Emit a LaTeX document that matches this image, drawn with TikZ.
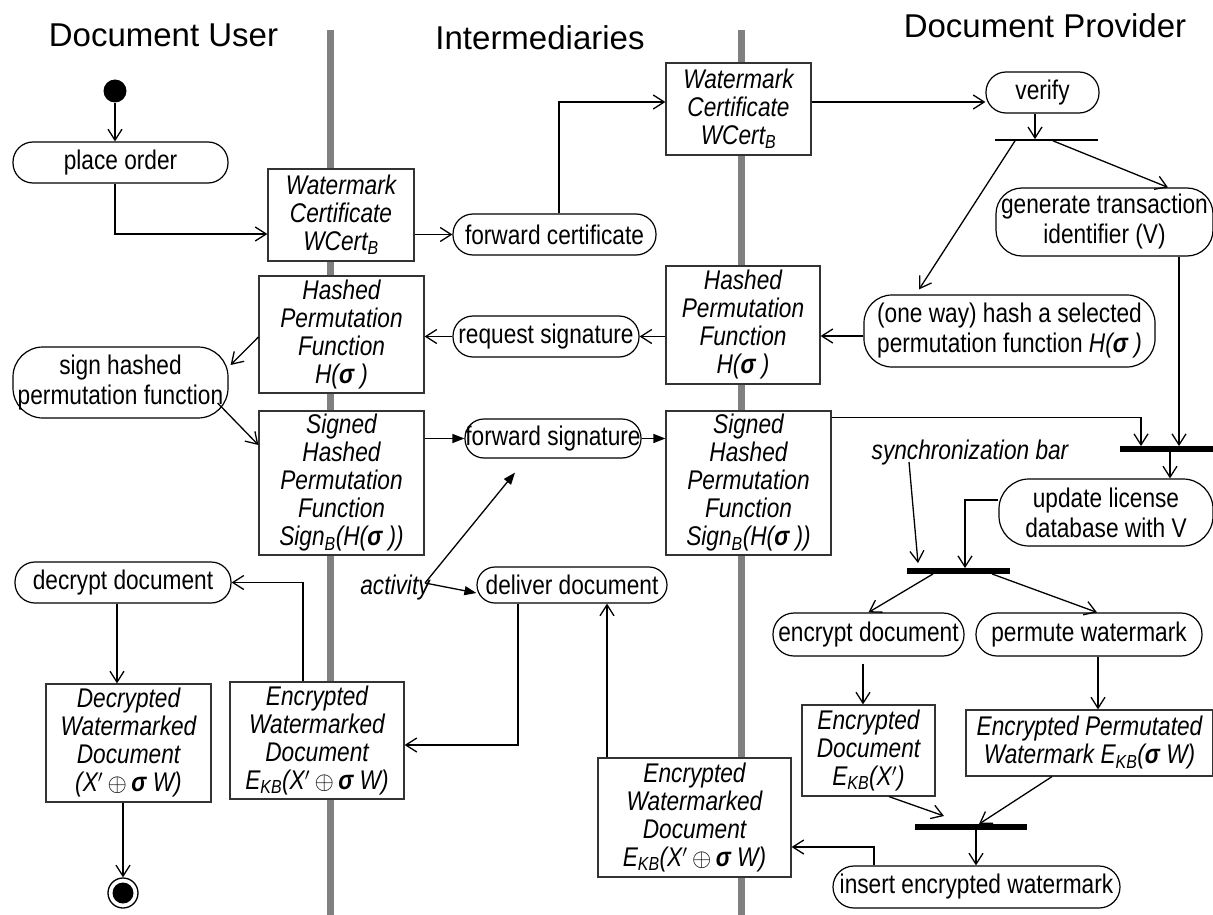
\documentclass[tikz,border=0pt]{standalone}
\usepackage{fontspec}
\setmainfont{Liberation Sans}
\newfontfamily\nar[FakeStretch=0.84]{Liberation Sans}
\usetikzlibrary{arrows.meta,calc}
\begin{document}
\begin{tikzpicture}[x=1pt,y=-1pt,
  arr/.style={line width=1.3pt, -{Straight Barb[length=11pt,width=14pt]}},
  farr/.style={line width=1.3pt, -{Triangle[length=12pt,width=9pt]}},
  sz/.style 2 args={minimum width=#1pt, minimum height=#2pt},
  act/.style={draw, fill=white, line width=1.2pt, rounded corners=#1, inner sep=0pt, align=center, font=\nar\fontsize{27}{30}\selectfont},
  obj/.style={draw=black!80, fill=white, line width=1.2pt, inner sep=0pt, align=center, font=\nar\itshape\fontsize{27}{28}\selectfont},
  syncbar/.style={fill=black, inner sep=0pt, minimum height=5.5pt},
  lane/.style={line width=7pt, draw=black!50},
  ttl/.style={font=\fontsize{33}{36}\selectfont, anchor=base, inner sep=0pt},
  lbl/.style={font=\nar\itshape\fontsize{27}{30}\selectfont, inner sep=0pt}
]
\useasboundingbox (0,0) rectangle (1213,915);
\draw[lane] (330,30) -- (330,915);
\draw[lane] (741,30) -- (741,915);

\node[ttl] (t1) at (163.5,47) {Document User};
\node[ttl] (t2) at (540,50) {Intermediaries};
\node[ttl] (t3) at (1045,38) {Document Provider};

\node[circle, fill, minimum size=23pt, inner sep=0pt] (st0) at (115,91) {};
\node[act=20pt, sz={215}{41}] (po) at (120.5,162.5) {place order};
\node[obj, sz={146}{92}] (wc1) at (341,215) {Watermark\\Certificate\\WCert\textsubscript{B}};
\node[act=20pt, sz={203}{41}] (fc) at (554.5,234.5) {forward certificate};
\node[obj, sz={145}{92}] (wc2) at (738.5,109) {Watermark\\Certificate\\WCert\textsubscript{B}};
\node[act=20pt, sz={113}{41}] (vf) at (1042.5,92.5) {verify};
\node[syncbar, minimum height=1.3pt, minimum width=103pt] (b0) at (1046.5,140) {};
\node[act=26pt, sz={217}{68}] (gt) at (1104.5,222) {generate transaction\\identifier (V)};
\node[act=28pt, sz={291}{72}] (oh) at (1009.5,331) {(one way) hash a selected\\permutation function \textit{H(\textbf{σ} )}};
\node[obj, sz={154}{118}] (hp2) at (743,325) {Hashed\\Permutation\\Function\\H(\textbf{σ} )};
\node[act=20pt, sz={186}{41}] (rs) at (546,336.5) {request signature};
\node[obj, sz={165}{117}] (hp1) at (341.5,334.5) {Hashed\\Permutation\\Function\\H(\textbf{σ} )};
\node[act=30pt, sz={215}{71}] (sh) at (120.5,382.5) {sign hashed\\permutation function};
\node[obj, sz={165}{144}] (sg1) at (341.5,483) {Signed\\Hashed\\Permutation\\Function\\Sign\textsubscript{B}(H(\textbf{σ} ))};
\node[act=19pt, sz={176}{39}] (fs) at (553,438.5) {forward signature};
\node[obj, sz={165}{144}] (sg2) at (748.5,483) {Signed\\Hashed\\Permutation\\Function\\Sign\textsubscript{B}(H(\textbf{σ} ))};
\node[syncbar, minimum width=93pt] (b1) at (1166.5,449) {};
\node[lbl] (sb) at (970,453) {synchronization bar};
\node[act=30pt, sz={214}{67}] (ul) at (1106,512.5) {update license\\database with V};
\node[syncbar, minimum width=103pt] (b2) at (958.5,571) {};
\node[act=21pt, sz={191}{43}] (ed) at (868.5,634.5) {encrypt document};
\node[act=21pt, sz={226}{43}] (pw) at (1089,634.5) {permute watermark};
\node[obj, sz={133}{91}] (edoc) at (868.5,750.5) {Encrypted\\Document\\E\textsubscript{KB}(X$'$)};
\node[obj, sz={247}{66}] (epw) at (1089.5,743) {Encrypted Permutated\\Watermark E\textsubscript{KB}(\textbf{σ} W)};
\node[syncbar, minimum width=112pt] (b3) at (971,827) {};
\node[act=21pt, sz={287}{42}] (ins) at (976.5,887) {insert encrypted watermark};
\node[obj, sz={193}{119}] (ewd2) at (694.5,817.5) {Encrypted\\Watermarked\\Document\\E\textsubscript{KB}(X$'$\,$\oplus$\,\textbf{σ} W)};
\node[act=18pt, sz={190}{36}] (dd) at (572,585) {deliver document};
\node[lbl] (ac) at (395,588) {activity};
\node[obj, sz={174}{117}] (ewd1) at (317,740.5) {Encrypted\\Watermarked\\Document\\E\textsubscript{KB}(X$'$\,$\oplus$\,\textbf{σ} W)};
\node[act=20pt, sz={216}{41}] (dc) at (123,582.5) {decrypt document};
\node[obj, sz={165}{118}] (dwd) at (128.5,743) {Decrypted\\Watermarked\\Document\\(X$'$\,$\oplus$\,\textbf{σ} W)};
\node[circle, draw, line width=1.3pt, fill=white, minimum size=30pt, inner sep=0pt] (en) at (123,893) {};
\fill (en.center) circle (10.5pt);

\draw[arr] (st0) -- ([xshift=-5.5pt]po.north);
\draw[arr] ([xshift=-5.5pt]po.south) |- ([yshift=-19pt]wc1.west);
\draw[arr] (wc1.east |- fc.west) -- (fc.west);
\draw[arr] ([xshift=4.5pt]fc.north) |- ([yshift=7pt]wc2.west);
\coordinate (c1) at ([yshift=7pt]wc2.east);
\draw[arr] (c1) -- (c1 -| vf.west);
\draw[arr] ([xshift=-7.5pt]vf.south) -- ([xshift=-11.5pt]b0.north);
\draw[arr] ([xshift=-31.5pt]b0.south) -- ([xshift=-90.5pt,yshift=5pt]oh.north);
\draw[arr] ([xshift=6.5pt]b0.south) -- ([xshift=63.5pt]gt.north);
\coordinate (c2) at ([yshift=-5pt]oh.west);
\draw[arr] (c2) -- (c2 -| hp2.east);
\draw[arr] (hp2.west |- rs.east) -- (rs.east);
\draw[arr] (rs.west) -- (rs.west -| hp1.east);
\draw[arr] ([yshift=-2.5pt]hp1.west) -- ([xshift=2pt,yshift=17.5pt]sh.east);
\draw[arr] ([xshift=-11pt,yshift=-20.5pt]sh.east) -- ([yshift=38pt]sg1.west);
\draw[farr] (sg1.east |- fs.west) -- (fs.west);
\draw[farr] (fs.east) -- (fs.east -| sg2.west);
\draw[arr] ([yshift=-7pt]sg2.north east) -| ([xshift=-25.5pt]b1.north);
\draw[arr] ([xshift=74.5pt]gt.south) -- ([xshift=12.5pt]b1.north);
\draw[arr] ([xshift=3.5pt]b1.south) -- ([xshift=64pt]ul.north);
\draw[arr] ([xshift=-61pt,yshift=-9pt]sb.center) -- ([xshift=-40.5pt,yshift=5pt]b2.north);
\draw[arr] ([yshift=12.5pt]ul.west) -| ([xshift=6.5pt]b2.north);
\draw[arr] ([xshift=-25.5pt]b2.south) -- (ed.north);
\draw[arr] ([xshift=33.5pt]b2.south) -- ([xshift=8pt]pw.north);
\draw[arr] ([xshift=-5.5pt,yshift=-7pt]ed.south) -- ([xshift=-5.5pt]edoc.north);
\draw[arr] ([xshift=9pt]pw.south) -- ([xshift=8.5pt]epw.north);
\draw[arr] ([xshift=20.5pt]edoc.south) -- ([xshift=-27pt,yshift=11pt]b3.center);
\draw[arr] ([xshift=-37.5pt]epw.south) -- ([xshift=8pt]b3.north);
\draw[arr] ([xshift=5pt]b3.south) -- ([xshift=-0.5pt]ins.north);
\draw[arr] ([xshift=-102.5pt]ins.north) |- ([yshift=-29.5pt]ewd2.east);
\draw[arr] ([xshift=-87.5pt]ewd2.north) -- ([xshift=35pt]dd.south);
\draw[arr] ([xshift=-54pt]dd.south) |- ([yshift=-4.5pt]ewd1.east);
\draw[arr] ([xshift=-14pt]ewd1.north) |- (dc.east);
\draw[arr] ([xshift=-6pt]dc.south) -- ([xshift=-11.5pt]dwd.north);
\draw[arr] ([xshift=-5.5pt]dwd.south) -- (en.north);
\draw[farr] ([xshift=30pt,yshift=5pt]ac.center) -- ([yshift=-8pt]dd.west);
\draw[farr] ([xshift=30pt,yshift=5pt]ac.center) -- ([xshift=-38pt,yshift=-14pt]fs.south);
\end{tikzpicture}
\end{document}
